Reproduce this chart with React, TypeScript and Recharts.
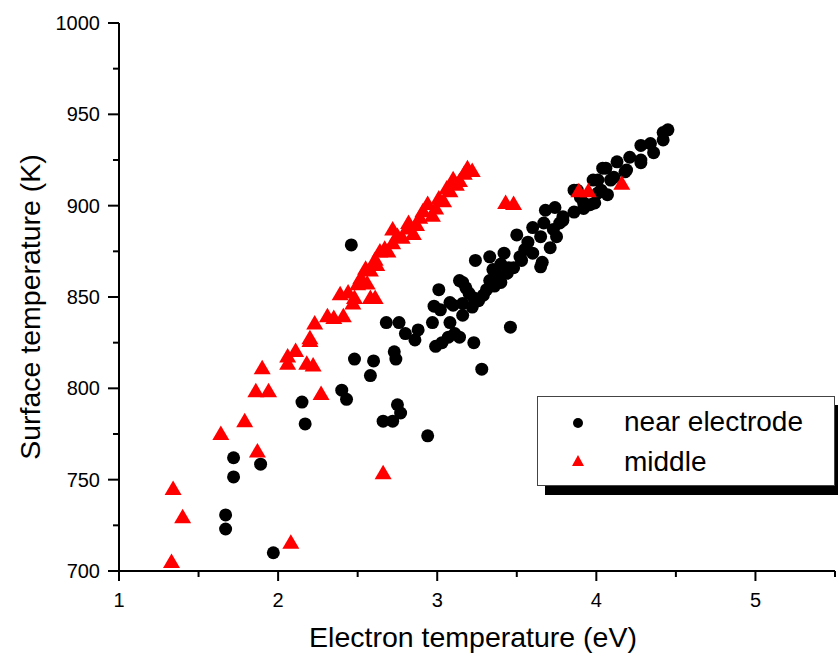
import { ScatterChart, Scatter, XAxis, YAxis, Legend } from 'recharts';

// Electron temperature (eV) / surface temperature (K), near electrode
const nearTe = [
  1.67, 1.67, 1.72, 1.72, 1.89, 1.97, 2.15, 2.17, 2.4, 2.43, 2.46, 2.48, 2.58, 2.6, 2.66, 2.72,
  2.75, 2.77, 2.94, 2.73, 2.74, 2.68, 2.76, 2.8, 2.88, 2.86, 2.97, 2.98, 3.02, 2.99, 3.03, 3.07,
  3.11, 3.14, 3.23, 3.28, 3.46, 3.1, 3.16, 3.22, 3.26, 3.16, 3.01, 3.08, 3.08, 3.14, 3.16, 3.23,
  3.29, 3.31, 3.33, 3.24, 3.33, 3.4, 3.44, 3.42, 3.48, 3.52, 3.5, 3.57, 3.6, 3.65, 3.6, 3.66,
  3.65, 3.67, 3.71, 3.73, 3.75, 3.68, 3.74, 3.79, 3.79, 3.77, 3.86, 3.86, 3.88, 3.9, 3.92, 3.92,
  3.96, 3.99, 3.98, 4.01, 4.01, 4.03, 4.07, 4.04, 4.06, 4.09, 4.11, 4.13, 4.18, 4.19, 4.21, 4.28,
  4.28, 4.28, 4.34, 4.36, 4.42, 4.42, 4.45, 3.36, 3.38, 3.45, 3.53, 3.55, 3.4, 3.35, 3.2, 3.18,
];
const nearTs = [
  723, 730.7, 762, 751.5, 758.5, 710, 792.5, 780.5, 799, 794, 878.5, 816, 807, 815, 782, 782,
  791, 786.5, 774, 820, 816, 836, 836, 830, 832, 826.5, 836, 845, 843, 823, 825, 828,
  830, 828, 825, 810.5, 833.5, 845.5, 846.5, 844.5, 848, 840, 854, 836, 847, 859, 858, 849.5,
  851, 854, 859, 870, 872, 858, 863, 874, 866, 872, 884, 880, 874, 866.5, 888, 869,
  883, 890.5, 877, 887, 883, 897.5, 899, 892, 894, 890.5, 896.5, 908.5, 908.5, 904.5, 898.5, 901.5,
  900.5, 901.5, 914, 914, 907, 908.5, 906, 920.5, 920.5, 914, 915.5, 924, 918.5, 919.5, 926.5, 925,
  923.5, 933, 934, 929, 936, 940, 941.5, 856, 862, 866, 870, 876, 868, 865, 852, 855,
];

// middle
const midTe = [
  1.33, 1.34, 1.4, 1.64, 1.79, 1.86, 1.87, 1.9, 1.94, 2.06, 2.06, 2.08, 2.11, 2.18, 2.22, 2.2,
  2.2, 2.23, 2.27, 2.31, 2.35, 2.41, 2.39, 2.44, 2.48, 2.47, 2.5, 2.52, 2.55, 2.58, 2.58, 2.61,
  2.61, 2.64, 2.67, 2.69, 2.72, 2.72, 2.78, 2.81, 2.82, 2.85, 2.89, 2.91, 2.94, 2.97, 3.01, 3.04,
  3.08, 3.1, 3.14, 3.19, 3.22, 2.66, 3.43, 3.48, 3.89, 3.95, 4.16, 2.56, 2.62, 2.75, 2.87, 2.99,
  3.06, 3.12, 3.17,
];
const midTs = [
  705.5, 745.5, 730, 775.5, 782.5, 799, 766, 811.5, 799, 818, 814, 716, 821, 814, 813, 826.5,
  828, 836, 797.5, 840, 839, 840, 852, 853, 850, 847, 857.5, 861, 866, 850, 865, 850,
  871, 875.5, 877, 875.5, 887.5, 880, 883, 888, 891, 885, 894, 897.5, 901.5, 895, 904.5, 903,
  908.5, 915, 914, 921, 919.5, 754, 902, 901.5, 908.5, 908.5, 912.5, 858, 868, 884, 890, 899,
  910, 912, 918,
];

const xTicks = [1, 1.5, 2, 2.5, 3, 3.5, 4, 4.5, 5, 5.5];
const yTicks = [700, 725, 750, 775, 800, 825, 850, 875, 900, 925, 950, 975, 1000];

const nearData = nearTe.map((te, i) => ({ te, ts: nearTs[i] }));
const midData = midTe.map((te, i) => ({ te, ts: midTs[i] }));

const FONT = '"Liberation Sans", Arial, sans-serif';

const Dot = (props: any) => <circle cx={props.cx} cy={props.cy} r={6.5} fill="#000" />;

const Tri = (props: any) => {
  const { cx, cy } = props;
  return (
    <polygon
      points={`${cx},${cy - 7.5} ${cx - 8.5},${cy + 7} ${cx + 8.5},${cy + 7}`}
      fill="#ff0000"
    />
  );
};

const XTick = ({ x, y, payload }: any) => {
  const major = Number.isInteger(payload.value);
  return (
    <g>
      <line x1={x} y1={y} x2={x} y2={y + (major ? 10 : 6)} stroke="#000" strokeWidth={2} />
      {major && (
        <text x={x} y={y + 36} textAnchor="middle" fontSize={20} fontFamily={FONT} fill="#000">
          {payload.value}
        </text>
      )}
    </g>
  );
};

const YTick = ({ x, y, payload }: any) => {
  const major = payload.value % 50 === 0;
  return (
    <g>
      <line x1={x} y1={y} x2={x - (major ? 11 : 6)} y2={y} stroke="#000" strokeWidth={2} />
      {major && (
        <text x={x - 19} y={y + 7} textAnchor="end" fontSize={20} fontFamily={FONT} fill="#000">
          {payload.value}
        </text>
      )}
    </g>
  );
};

const LegendBox = () => (
  <div
    style={{
      width: 296,
      height: 88,
      border: '1.5px solid #444',
      background: '#fff',
      boxShadow: '8px 9px 0 #000',
      fontFamily: FONT,
      fontSize: 28,
      lineHeight: '32px',
      color: '#000',
      position: 'relative',
    }}
  >
    <svg width={30} height={80} style={{ position: 'absolute', left: 30, top: 8 }}>
      <circle cx={10} cy={18} r={5} fill="#000" />
      <polygon points="10,50 4,61 16,61" fill="#ff0000" />
    </svg>
    <div style={{ position: 'absolute', left: 86, top: 9 }}>near electrode</div>
    <div style={{ position: 'absolute', left: 86, top: 49 }}>middle</div>
  </div>
);

export default function App() {
  return (
    <div style={{ position: 'absolute', left: 0, top: 0, background: '#fff' }}>
      <ScatterChart width={838} height={658} margin={{ top: 23, right: 3, bottom: 0, left: 0 }}>
        <XAxis
          type="number"
          dataKey="te"
          domain={[1, 5.5]}
          ticks={xTicks}
          interval={0}
          height={87}
          tickSize={0}
          tickMargin={0}
          tick={<XTick />}
          axisLine={{ stroke: '#000', strokeWidth: 2 }}
          allowDataOverflow
          label={{
            content: ({ viewBox }: any) => (
              <text
                x={viewBox.x + viewBox.width / 2 - 4}
                y={viewBox.y + 76}
                textAnchor="middle"
                fontSize={28.5}
                fontFamily={FONT}
                fill="#000"
              >
                Electron temperature (eV)
              </text>
            ),
          }}
        />
        <YAxis
          type="number"
          dataKey="ts"
          domain={[700, 1000]}
          ticks={yTicks}
          interval={0}
          width={119}
          tickSize={0}
          tickMargin={0}
          tick={<YTick />}
          axisLine={{ stroke: '#000', strokeWidth: 2 }}
          allowDataOverflow
          label={{
            content: ({ viewBox }: any) => {
              const cx = viewBox.x + 40;
              const cy = viewBox.y + viewBox.height / 2 + 10;
              return (
                <text
                  x={cx}
                  y={cy}
                  transform={`rotate(-90, ${cx}, ${cy})`}
                  textAnchor="middle"
                  fontSize={28.5}
                  fontFamily={FONT}
                  fill="#000"
                >
                  Surface temperature (K)
                </text>
              );
            },
          }}
        />
        <Legend
          layout="horizontal"
          verticalAlign="middle"
          align="center"
          wrapperStyle={{ left: 537, top: 396, width: 310 }}
          content={<LegendBox />}
        />
        <Scatter name="near electrode" data={nearData} shape={<Dot />} isAnimationActive={false} />
        <Scatter name="middle" data={midData} shape={<Tri />} isAnimationActive={false} />
      </ScatterChart>
    </div>
  );
}
